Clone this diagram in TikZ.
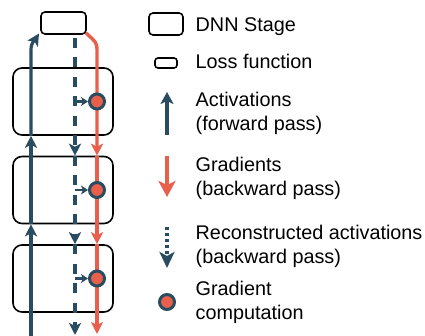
\documentclass[tikz,border=0pt]{standalone}
\usepackage{fontspec}
\setmainfont{Liberation Sans}
\usetikzlibrary{arrows.meta}
\definecolor{fwd}{HTML}{294C60}
\definecolor{bwd}{HTML}{E8604C}
\tikzset{
  stagebox/.style={draw=black, line width=1.6pt, rounded corners=9pt, minimum width=100pt, minimum height=67pt, inner sep=0pt},
  lossbox/.style={draw=black, line width=1.6pt, rounded corners=4pt, minimum width=45pt, minimum height=22pt, inner sep=0pt},
  fwdline/.style={draw=fwd, line width=3.2pt, -{Stealth[length=12pt, width=12pt, inset=3pt]}},
  bwdline/.style={draw=bwd, line width=3.4pt, -{Stealth[length=12pt, width=12pt, inset=3pt]}},
  recline/.style={draw=fwd, line width=3.2pt, dash pattern=on 10pt off 9.5pt, -{Stealth[length=12pt, width=12pt, inset=3pt]}},
  smallarr/.style={draw=fwd, line width=2.8pt, -{Stealth[length=7pt, width=9pt, inset=2pt]}},
  gradc/.style={circle, draw=fwd, fill=bwd, line width=3pt, minimum size=15pt, inner sep=0pt},
  lbl/.style={anchor=base west, inner sep=0pt, font=\fontsize{19.8}{24}\selectfont},
}
\begin{document}
\begin{tikzpicture}[x=1pt, y=-1pt]
\useasboundingbox (0,0) rectangle (425,336);
% stages and loss
\node[lossbox] (loss) at (63.5,23) {};
\node[stagebox] (s1) at (63,101.5) {};
\node[stagebox] (s2) at (63,190) {};
\node[stagebox] (s3) at (63,278.5) {};
% coordinates
\coordinate (fin) at (31,336);
\coordinate (fb) at (31,50);
\coordinate (ftop) at (39,33.5);
\coordinate (rtop) at ([shift={(-1,-2)}]loss.south east);
\coordinate (rb) at (97,52);
\coordinate (rout) at (97,334);
\coordinate (dtop) at (75,38);
\coordinate (dout) at (75,335);
% forward activations
\draw[fwdline] (fin) -- (s2.south -| fin);
\draw[fwdline] (s2.south -| fin) -- (s1.south -| fin);
\draw[fwdline] (s1.south -| fin) -- (fb) .. controls (31,42) and (35,40) .. (ftop);
% reconstructed activations
\draw[recline] (dtop) -- (s2.north -| dtop);
\draw[recline] (s2.north -| dtop) -- (s3.north -| dtop);
\draw[recline] (s3.north -| dtop) -- (dout);
% gradients
\draw[bwdline] (rtop) .. controls (97,43) .. (rb) -- (s2.north -| rb);
\draw[bwdline] (s2.north -| rb) -- (s3.north -| rb);
\draw[bwdline] (s3.north -| rb) -- (rout);
% gradient computation
\node[gradc] (c1) at (s1 -| rb) {};
\node[gradc] (c2) at (s2 -| rb) {};
\node[gradc] (c3) at (s3 -| rb) {};
\draw[smallarr] (c1 -| dtop) -- (c1.west);
\draw[smallarr] (c2 -| dtop) -- (c2.west);
\draw[smallarr] (c3 -| dtop) -- (c3.west);
% legend
\node[stagebox, minimum width=34pt, minimum height=22pt, rounded corners=4pt] (lg1) at (166,24) {};
\node[lossbox, minimum width=22pt, minimum height=10pt, rounded corners=3pt] (lg2) at (166,63) {};
\coordinate (la0) at (167,135);
\coordinate (la1) at (167,92);
\draw[fwdline, -{Stealth[length=12pt, width=13pt, inset=3pt]}] (la0) -- (la1);
\coordinate (lr0) at (167,156);
\coordinate (lr1) at (167,197);
\draw[bwdline, -{Stealth[length=16pt, width=17pt, inset=4pt]}] (lr0) -- (lr1);
\coordinate (ld0) at (167,227);
\coordinate (ld1) at (167,268);
\draw[draw=fwd, line width=3.2pt, dash pattern=on 3.3pt off 2.7pt, -{Stealth[length=16pt, width=15pt, inset=4pt]}] (ld0) -- (ld1);
\node[gradc] (lc) at (167,302) {};
% legend text
\node[lbl] (t1) at (195.5,32) {DNN Stage};
\node[lbl] (t2) at (195.5,69) {Loss function};
\node[lbl] (t3) at (195.5,107) {Activations};
\node[lbl] (t4) at (195.5,131) {(forward pass)};
\node[lbl] (t5) at (195.5,172) {Gradients};
\node[lbl] (t6) at (195.5,196) {(backward pass)};
\node[lbl] (t7) at (195.5,240) {Reconstructed activations};
\node[lbl] (t8) at (195.5,264) {(backward pass)};
\node[lbl] (t9) at (195.5,295) {Gradient};
\node[lbl] (t10) at (195.5,319) {computation};
\end{tikzpicture}
\end{document}
